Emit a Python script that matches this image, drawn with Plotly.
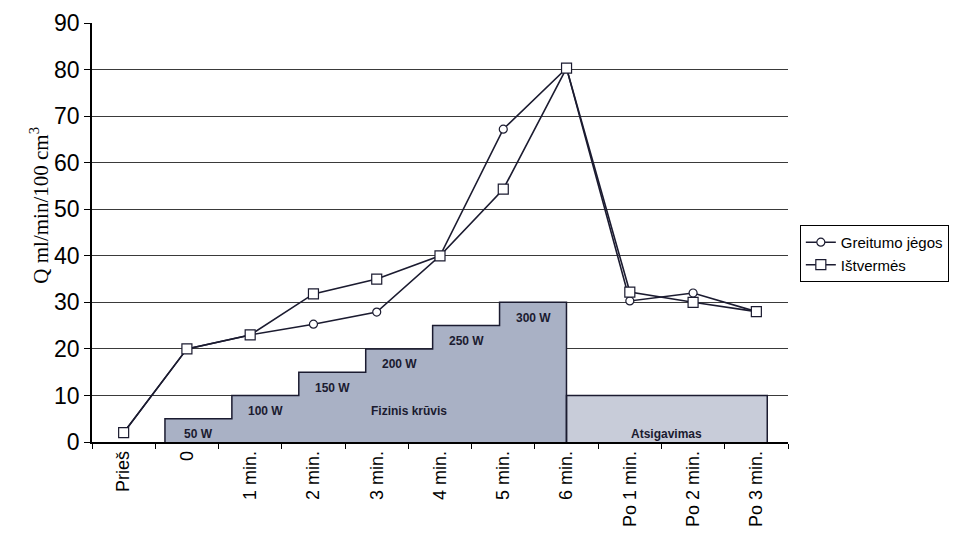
import plotly.graph_objects as go

# ---- data ----
categories = ["Prieš", "0", "1 min.", "2 min.", "3 min.", "4 min.", "5 min.",
              "6 min.", "Po 1 min.", "Po 2 min.", "Po 3 min."]
greitumo = [2, 20, 23, 25.3, 27.9, 40, 67.2, 80.3, 30.3, 32, 28]
istvermes = [2, 20, 23, 31.8, 35, 40, 54.3, 80.3, 32.2, 30, 28]

load_labels = ["50 W", "100 W", "150 W", "200 W", "250 W", "300 W"]
load_values = [5, 10, 15, 20, 25, 30]
load_title = "Fizinis krūvis"
recovery_label = "Atsigavimas"
recovery_value = 10
recovery_steps = 3

SANS = "Liberation Sans, Arial, sans-serif"
SERIF = "Liberation Serif, Times New Roman, serif"
INK = "#1b1b30"

fig = go.Figure()

n_load = len(load_values)
# load bars (fill only)
fig.add_trace(go.Bar(
    x=[i + 0.5 for i in range(n_load)], y=load_values, width=[1] * n_load,
    marker=dict(color="#a9b1c5", line=dict(width=0)),
    xaxis="x", yaxis="y", showlegend=False, hoverinfo="skip"))
# recovery bar
fig.add_trace(go.Bar(
    x=[n_load + recovery_steps / 2], y=[recovery_value], width=[recovery_steps],
    marker=dict(color="#c8ccd9", line=dict(width=0)),
    xaxis="x", yaxis="y", showlegend=False, hoverinfo="skip"))

# staircase outline of load bars
sx = [0] + list(range(n_load)) + [n_load, n_load]
sy = [0] + load_values + [load_values[-1], 0]
fig.add_trace(go.Scatter(x=sx, y=sy, mode="lines", line=dict(color=INK, width=1.5, shape="hv"),
                         xaxis="x", yaxis="y", showlegend=False, hoverinfo="skip"))
# recovery outline
rx = [n_load, n_load, n_load + recovery_steps, n_load + recovery_steps]
ry = [0, recovery_value, recovery_value, 0]
fig.add_trace(go.Scatter(x=rx, y=ry, mode="lines", line=dict(color=INK, width=1.5),
                         xaxis="x", yaxis="y", showlegend=False, hoverinfo="skip"))

# lines
fig.add_trace(go.Scatter(
    x=categories, y=greitumo, name="Greitumo jėgos", mode="lines+markers",
    line=dict(color=INK, width=1.6),
    marker=dict(symbol="circle", size=8, color="white", line=dict(color=INK, width=1.2)),
    xaxis="x2", yaxis="y"))
fig.add_trace(go.Scatter(
    x=categories, y=istvermes, name="Ištvermės", mode="lines+markers",
    line=dict(color=INK, width=1.6),
    marker=dict(symbol="square", size=10, color="white", line=dict(color=INK, width=1.2)),
    xaxis="x2", yaxis="y"))

# bar labels
lab_font = dict(family=SANS, size=12, color="#1b1b30", weight="bold")
for i, (lab, v) in enumerate(zip(load_labels, load_values)):
    fig.add_annotation(x=i + 0.5, y=v - 3.3, xref="x", yref="y", text=lab,
                       showarrow=False, font=lab_font)
fig.add_annotation(x=3.65, y=6.7, xref="x", yref="y", text=load_title,
                   showarrow=False, font=lab_font)
fig.add_annotation(x=n_load + recovery_steps / 2, y=1.8, xref="x", yref="y",
                   text=recovery_label, showarrow=False, font=lab_font)

# y-axis title (placed as annotation to match its vertical offset)
fig.add_annotation(x=-0.075, y=0.566, xref="paper", yref="paper",
                   xanchor="center", yanchor="middle",
                   text="Q ml/min/100 cm<sup>3</sup>", textangle=-90, showarrow=False,
                   font=dict(family=SERIF, size=21, color="black"))

fig.update_layout(
    width=954, height=538,
    margin=dict(l=92, r=166, t=23, b=96, autoexpand=False),
    paper_bgcolor="white", plot_bgcolor="white",
    barmode="overlay", bargap=0,
    xaxis=dict(range=[-1.09, 9.31], visible=False, domain=[0, 1]),
    xaxis2=dict(type="category", overlaying="x", anchor="y", side="bottom",
                range=[-0.5, 10.5], showline=True, linecolor="black", linewidth=1.5,
                ticks="outside", ticklen=5, tickcolor="black", tickson="boundaries",
                tickangle=-90, showgrid=False, zeroline=False,
                tickfont=dict(family=SANS, size=18, color="black")),
    yaxis=dict(range=[0, 90], dtick=10, showline=True, linecolor="black", linewidth=1.5,
               ticks="outside", ticklen=6, tickcolor="black",
               showgrid=True, gridcolor="#3a3a3a", gridwidth=1, zeroline=False,
               tickfont=dict(family=SANS, size=23, color="black")),
    legend=dict(x=1.017, y=0.518, xanchor="left", yanchor="top",
                bordercolor="black", borderwidth=1, bgcolor="white",
                font=dict(family=SANS, size=15, color="black"),
                itemwidth=30, tracegroupgap=0),
)

fig.write_html("out.html")
